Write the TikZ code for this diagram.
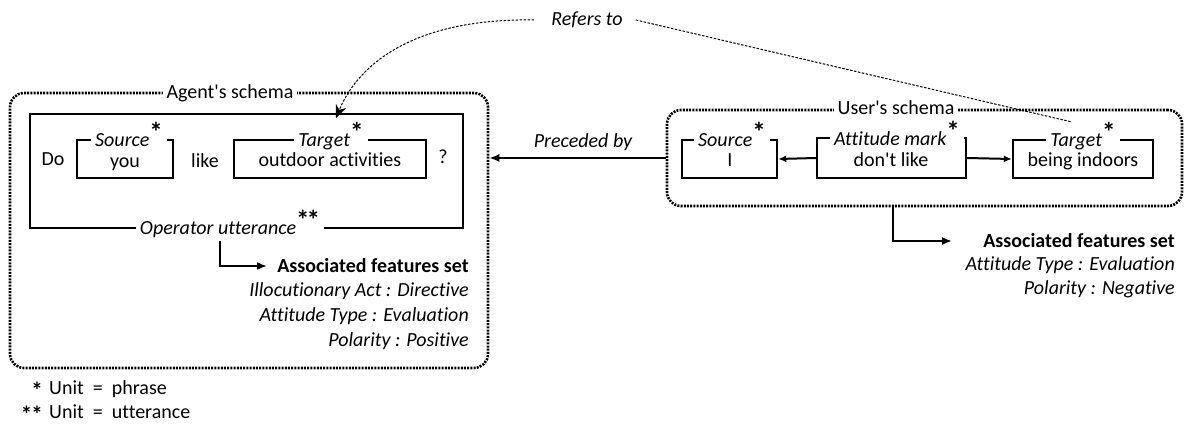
\documentclass[tikz,border=0pt]{standalone}
\usepackage{fontspec}
\setmainfont{Carlito}[Ligatures=CommonOff]
\usetikzlibrary{arrows.meta}
\newcommand\stx{{\upshape\bfseries\raisebox{5pt}{\fontsize{27}{27}\selectfont *}}}
\newcommand\fst{{\bfseries\fontsize{23}{23}\selectfont *}}
\begin{document}
\begin{tikzpicture}[x=1pt,y=-1pt,
 txt/.style={font=\fontsize{20}{24}\selectfont, inner sep=1pt},
 itx/.style={txt, font=\fontsize{20}{24}\selectfont\itshape},
 inb/.style={txt, text height=10pt, text depth=0pt},
 lbl/.style={fill=white, inner xsep=4pt, inner ysep=0pt, anchor=base, text height=9pt, text depth=-3pt},
 thickbox/.style={draw, line width=2.4pt, inner sep=0pt},
 schema/.style={draw, line width=2.6pt, dash pattern=on 2pt off 1.2pt, rounded corners=14pt, inner sep=0pt},
 arr/.style={line width=2pt, -{Latex[length=10pt,width=8pt]}},
 refdash/.style={line width=1pt, dash pattern=on 2.5pt off 1.5pt},
 foot/.style={txt, inner sep=0pt, text height=12pt, text depth=2pt},
]
\useasboundingbox (0,0) rectangle (1184,428);

% Agent's schema
\node (agent) [schema, minimum width=478pt, minimum height=275pt] at (249,230.5) {};
\node (agentlbl) [txt, lbl] at (230,99) {Agent\textquotesingle s schema};
\node (opbox) [thickbox, minimum width=433pt, minimum height=114pt] at (246.5,171) {};
\node (oplbl) [itx, lbl] at (230,234) {Operator utterance\stx\kern-3pt\stx};
\node (asrc) [thickbox, minimum width=96pt, minimum height=38pt] at (125,159) {};
\node (asrcl) [itx, lbl] at (129,146) {Source\stx};
\node (you) [inb] at (125,162) {you};
\node (atgt) [thickbox, minimum width=192pt, minimum height=38pt] at (330,159) {};
\node (atgtl) [itx, lbl] at (331,146) {Target\stx};
\node (outdoor) [inb] at (330,161) {outdoor activities};
\node (do) [inb] at (53,160) {Do};
\node (like) [inb] at (205,162) {like};
\node (q) [inb] at (443,158) {?};

\node (af1) [txt, anchor=east, font=\fontsize{20}{24}\selectfont\bfseries] at (470,266) {Associated features set};
\node (af2) [itx, anchor=east] at (470,291) {Illocutionary Act : Directive};
\node (af3) [itx, anchor=east] at (470,316) {Attitude Type : Evaluation};
\node (af4) [itx, anchor=east] at (470,341) {Polarity : Positive};
\coordinate (a1) at (220,241);
\draw[arr, shorten >=9pt] (a1) |- (af1.west);

% User's schema
\node (user) [schema, minimum width=515pt, minimum height=96pt] at (924.5,158) {};
\node (userlbl) [txt, lbl] at (896,114) {User\textquotesingle s schema};
\node (usrc) [thickbox, minimum width=95pt, minimum height=38pt] at (729.5,159) {};
\node (usrcl) [itx, lbl] at (732,146) {Source\stx};
\node (ui) [inb] at (730,161) {I};
\node (uatt) [thickbox, minimum width=149pt, minimum height=40pt] at (891.5,158) {};
\node (uattl) [itx, lbl] at (897,145) {Attitude mark\stx};
\node (dont) [inb] at (891,161) {don\textquotesingle t like};
\node (utgt) [thickbox, minimum width=140pt, minimum height=38pt] at (1083,159) {};
\node (utgtl) [itx, lbl] at (1083,146) {Target\stx};
\node (indoors) [inb] at (1083,161) {being indoors};
\draw[arr, -{Latex[length=8pt,width=7pt]}] (uatt.west) -- (usrc.east);
\draw[arr, -{Latex[length=8pt,width=7pt]}] (uatt.east) -- (utgt.west);

\node (uf1) [txt, anchor=east, font=\fontsize{20}{24}\selectfont\bfseries] at (1176,241) {Associated features set};
\node (uf2) [itx, anchor=east] at (1176,265) {Attitude Type : Evaluation};
\node (uf3) [itx, anchor=east] at (1176,289) {Polarity : Negative};
\coordinate (u1) at (893,206);
\draw[arr, shorten >=30pt] (u1) |- (uf1.west);

% Preceded by
\draw[arr] (user.west) -- (agent.east |- user.west);
\node (prec) [itx] at (583,142) {Preceded by};

% Refers to
\node (refers) [itx] at (587,20) {Refers to};
\coordinate (rtip) at (336,118);
\coordinate (rend) at (1072,122);
\draw[refdash, -{Stealth[length=13pt,width=11pt]}] ([xshift=-16pt]refers.west) .. controls (420,18) and (360,60) .. (rtip);
\draw[refdash] ([xshift=12pt]refers.east) -- (rend);

% Footnotes
\node (n1) [foot, anchor=west] at (49,389) {Unit\ \ =\ \ phrase};
\node (s1) [foot, anchor=base east] at ([xshift=-6pt]n1.base west) {\smash{\raisebox{-4pt}{\fst}}};
\node (n2) [foot, anchor=west] at (49,413) {Unit\ \ =\ \ utterance};
\node (s2) [foot, anchor=base east] at ([xshift=-6pt]n2.base west) {\smash{\raisebox{-4pt}{\fst\kern-1pt\fst}}};
\end{tikzpicture}
\end{document}
